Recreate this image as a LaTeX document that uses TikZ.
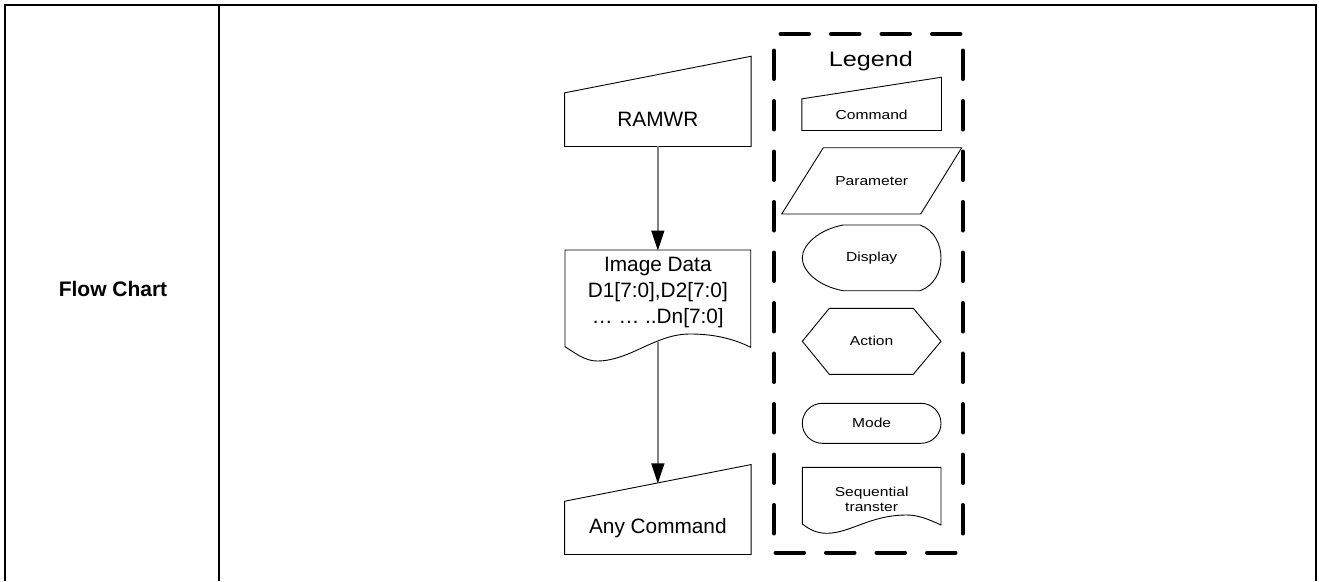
\documentclass[tikz,border=0pt]{standalone}
\usepackage{fontspec}
\setmainfont{Liberation Sans}
\newfontfamily\lgfont[FakeStretch=1.2]{Liberation Sans}
\usetikzlibrary{arrows.meta}

\begin{document}
\begin{tikzpicture}[x=1pt, y=-1pt, line width=0.9pt,
  flow/.style={draw=gray, line width=1.3pt, -{Triangle[length=20pt,width=13pt,color=black]}},
  shp/.style={draw=black, line width=0.9pt},
  txt/.style={font=\fontsize{20.8}{26}\selectfont, align=center, inner sep=0pt},
  lgtxt/.style={font=\lgfont\fontsize{13}{15}\selectfont, align=center, inner sep=0pt},
  lgedge/.style={line width=4pt, line cap=round, dash pattern=on 28.5pt off 22pt}]
  \useasboundingbox (0,0) rectangle (1319,581);
  % table frame
  \draw[line width=2pt] (5,581) -- (5,5) -- (1316,5) -- (1316,581);
  \draw[line width=2pt] (219.3,5) -- (219.3,581);
  \node[font=\bfseries\fontsize{21}{26}\selectfont] (flowchart) at (113,289) {Flow Chart};
  % RAMWR command
  \node[txt, minimum width=185.7pt, minimum height=52.7pt] (ramwr) at (657.85,119.65) {RAMWR};
  \draw[shp] (ramwr.south west) -- (ramwr.north west) -- ([yshift=36.6pt]ramwr.north east) -- (ramwr.south east) -- cycle;
  % image data, sequential transfer
  \node[txt, minimum height=82pt] (imgdata) at (657.85,292) {Image Data\\D1[7:0],D2[7:0]\\… … ..Dn[7:0]};
  \draw[shp] (565,346.7) -- (565,250) -- (750.7,250) -- (750.7,347.3)
    .. controls (732,338) and (712,334) .. (690,334)
    .. controls (655,334) and (630,361) .. (597,361)
    .. controls (585,361) and (575,353) .. (565,346.7) -- cycle;
  \coordinate (imgout) at (657.85,341.5);
  % any command
  \node[txt, minimum width=185.7pt, minimum height=52.3pt] (anycmd) at (657.85,527.85) {Any Command};
  \draw[shp] (anycmd.south west) -- (anycmd.north west) -- ([yshift=36.7pt]anycmd.north east) -- (anycmd.south east) -- cycle;
  \coordinate (anyin) at (657.85,483.4);
  \draw[flow] (ramwr.south) -- (imgdata.north);
  \draw[flow] (imgout) -- (anyin);
  % legend frame
  \draw[lgedge, dash phase=44pt] (774,34) -- (962.7,34);
  \draw[lgedge, dash phase=34pt] (774,34) -- (774,552.7);
  \draw[lgedge, dash phase=34pt] (962.7,34) -- (962.7,552.7);
  \draw[lgedge, dash phase=49pt] (774,552.7) -- (962.7,552.7);
  \node[font=\lgfont\fontsize{21}{24}\selectfont, anchor=base] (lgtitle) at (870.8,66.7) {Legend};
  % legend shapes
  \node[lgtxt, minimum width=138.7pt, minimum height=30.7pt] (lgcmd) at (871.65,114.65) {Command};
  \draw[shp] (lgcmd.south west) -- (lgcmd.north west) -- ([yshift=21.6pt]lgcmd.north east) -- (lgcmd.south east) -- cycle;
  \node[lgtxt] (lgparam) at (871.7,180.85) {Parameter};
  \draw[shp] (823.3,147.7) -- (961.7,147.7) -- (920.7,214) -- (781.7,214) -- cycle;
  \node[lgtxt] (lgdisp) at (871.65,257.85) {Display};
  \draw[shp] (843,225) -- (920,225) .. controls (948,235) and (948,281) .. (920,290.7) -- (843,290.7)
    .. controls (818,286) and (802.3,271) .. (802.3,257.85)
    .. controls (802.3,245) and (818,230) .. (843,225) -- cycle;
  \node[lgtxt] (lgaction) at (871.65,341.3) {Action};
  \draw[shp] (829.3,308.3) -- (913.3,308.3) -- (941,341.3) -- (913.3,374.3) -- (829.3,374.3) -- (802.3,341.3) -- cycle;
  \node[lgtxt, draw, rounded corners=20pt, minimum width=138.7pt, minimum height=40pt] (lgmode) at (871.65,423.3) {Mode};
  \node[lgtxt] (lgseq) at (871.65,499) {Sequential\\transter};
  \draw[shp] (802.3,524) -- (802.3,467.3) -- (941,467.3) -- (941,525)
    .. controls (928,519) and (918,515) .. (906.7,515)
    .. controls (870,515) and (850,533.3) .. (826.7,533.3)
    .. controls (816,533.3) and (809,529) .. (802.3,524) -- cycle;
\end{tikzpicture}
\end{document}
